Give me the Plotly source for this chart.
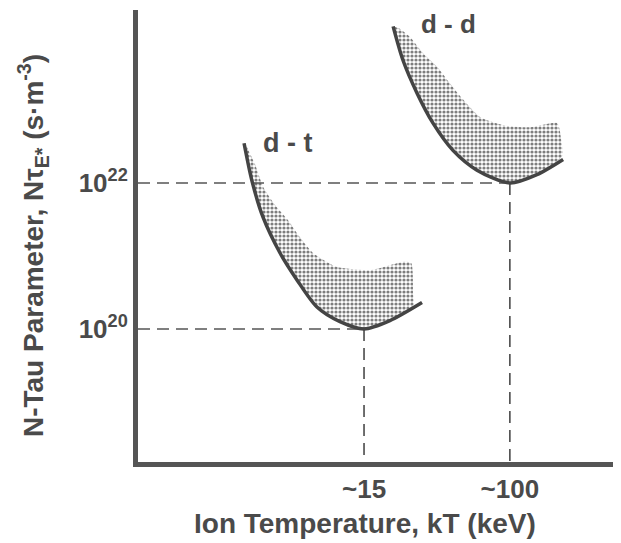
import plotly.graph_objects as go

# d-t curve (ion temperature keV, n*tau s/m^3)
dt_T = [3.15, 3.49, 4.03, 5.03, 6.27, 8.13, 10.97, 15.0, 21.0, 31.9]
dt_N = [3.5e22, 1.07e22, 3.4e21, 1.1e21, 4.7e20, 2.0e20, 1.26e20, 1.0e20, 1.3e20, 2.3e20]
# d-t shaded region upper edge
dt_up_T = [3.23, 3.63, 4.03, 4.71, 5.58, 6.52, 7.72, 10.5, 16.2, 24.9, 27.7, 28.4, 28.4]
dt_up_N = [3.3e22, 1.8e22, 8.9e21, 5.0e21, 3.1e21, 1.8e21, 1.1e21, 7.1e20, 6.4e20, 8.3e20, 8.0e20, 3.1e20, 1.95e20]

# d-d curve
dd_T = [21.9, 24.9, 29.9, 36.8, 47.7, 65.2, 100.0, 142.0, 200.0]
dd_N = [1.4e24, 4.8e23, 1.7e23, 6.6e22, 2.8e22, 1.5e22, 1.0e22, 1.3e22, 2.1e22]
# d-d shaded region upper edge
dd_up_T = [23.9, 27.3, 32.3, 38.8, 45.9, 54.3, 67.8, 91.5, 130.0, 185.0, 195.0, 197.0]
dd_up_N = [1.3e24, 1.0e24, 6.0e23, 3.9e23, 2.3e23, 1.4e23, 8.0e22, 6.2e22, 5.8e22, 6.6e22, 3.9e22, 2.3e22]

# reference minima
min_T = [15.0, 100.0]
min_N = [1.0e20, 1.0e22]

x_tickvals = [15, 100]
x_ticktext = ["<b>~15</b>", "<b>~100</b>"]
y_tickvals = [1e20, 1e22]
y_ticktext = ["<b>10<sup>20</sup></b>", "<b>10<sup>22</sup></b>"]

X_RANGE = [-0.101, 2.628]
Y_RANGE = [18.178, 24.37]
x_min, y_min = 10 ** X_RANGE[0], 10 ** Y_RANGE[0]
INK = "#4a4a4a"
FONT = "Liberation Sans, Arial, sans-serif"

fig = go.Figure()

def shade(upT, upN, cT, cN):
    lowT = [t for t in cT if t <= upT[-1]]
    lowN = cN[:len(lowT)]
    fig.add_trace(go.Scatter(
        x=upT + lowT[::-1], y=upN + lowN[::-1],
        mode="lines", line=dict(width=0, shape="spline", smoothing=0.6),
        fill="toself", fillcolor="rgba(255,255,255,0)",
        fillpattern=dict(shape=".", size=4, solidity=0.5, fgcolor="#707070", fgopacity=0.9),
        hoverinfo="skip", showlegend=False))

shade(dt_up_T, dt_up_N, dt_T, dt_N)
shade(dd_up_T, dd_up_N, dd_T, dd_N)

for T, N in zip(min_T, min_N):
    fig.add_trace(go.Scatter(x=[x_min, T], y=[N, N], mode="lines",
                             line=dict(color="#555", width=1.7, dash="12px,7px"),
                             hoverinfo="skip", showlegend=False))
    fig.add_trace(go.Scatter(x=[T, T], y=[N, y_min], mode="lines",
                             line=dict(color="#555", width=1.7, dash="12px,7px"),
                             hoverinfo="skip", showlegend=False))

for T, N, name in [(dt_T, dt_N, "d - t"), (dd_T, dd_N, "d - d")]:
    fig.add_trace(go.Scatter(x=T, y=N, mode="lines", name=name,
                             line=dict(color="#444", width=3.5, shape="spline", smoothing=0.8),
                             showlegend=False))

fig.add_annotation(x=0.741, y=22.55, xref="x", yref="y", text="<b>d - t</b>",
                   showarrow=False, xanchor="center", yanchor="middle",
                   font=dict(family=FONT, size=27, color=INK))
fig.add_annotation(x=1.656, y=1.0044, xref="x", yref="paper", text="<b>d - d</b>",
                   showarrow=False, xanchor="center", yanchor="top", borderpad=0,
                   font=dict(family=FONT, size=26, color=INK))

# axis titles
fig.add_annotation(x=0.470, y=-0.135, xref="paper", yref="paper",
                   text="<b>Ion Temperature, kT (keV)</b>", showarrow=False,
                   xanchor="center", yanchor="middle",
                   font=dict(family=FONT, size=28, color=INK))
fig.add_annotation(x=-0.2174, y=0.480, xref="paper", yref="paper",
                   text="<b>N-Tau Parameter, Nτ<sub>E*</sub> (s·m<sup>-3</sup>)</b>",
                   showarrow=False, textangle=-90, xanchor="center", yanchor="middle",
                   font=dict(family=FONT, size=28, color=INK))

fig.update_layout(
    width=613, height=535,
    margin=dict(l=130, r=0, t=2, b=81),
    paper_bgcolor="white", plot_bgcolor="white",
    font=dict(family=FONT, color=INK),
    xaxis=dict(type="log", range=X_RANGE, showgrid=False, zeroline=False,
               showline=True, linewidth=5, linecolor="#555",
               tickvals=x_tickvals, ticktext=x_ticktext, ticks="",
               tickfont=dict(family=FONT, size=26, color=INK)),
    yaxis=dict(type="log", range=Y_RANGE, showgrid=False, zeroline=False,
               showline=True, linewidth=5, linecolor="#555",
               tickvals=y_tickvals, ticktext=y_ticktext, ticks="",
               tickfont=dict(family=FONT, size=26, color=INK)),
)

fig.write_html("out.html")
